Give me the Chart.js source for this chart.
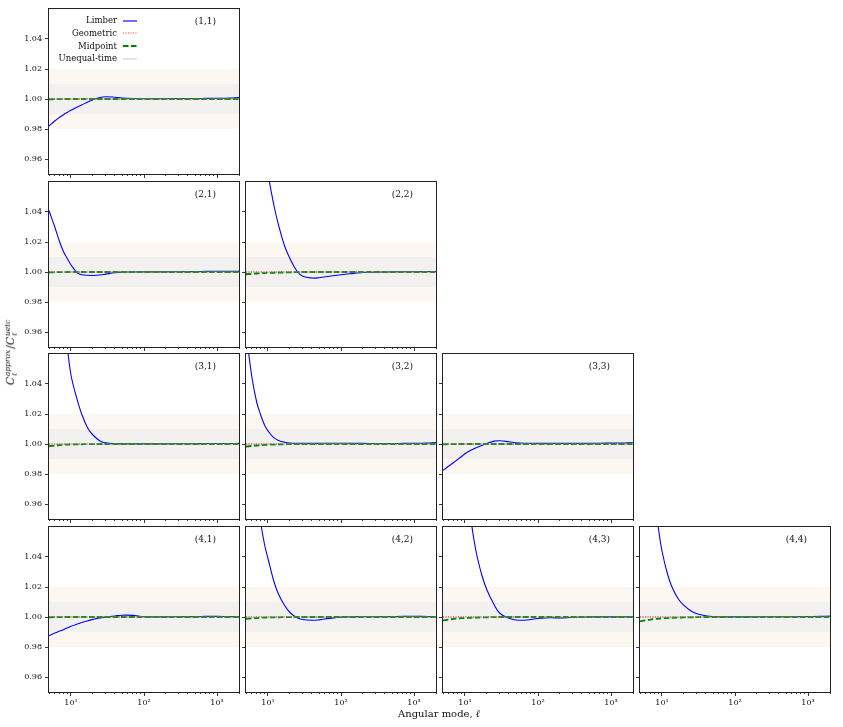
<!DOCTYPE html>
<html>
<head>
<meta charset="utf-8">
<script src="https://cdn.jsdelivr.net/npm/chart.js@4.4.1/dist/chart.umd.min.js"></script>
<style>
  body { margin: 0; background: #fff; font-family: "DejaVu Serif", serif; color: #111; }
  #figure { position: relative; width: 843px; height: 727px; overflow: hidden; }
  #figure canvas { position: absolute; }
  #legend { position: absolute; right: 706px; top: 14.4px; font-size: 8.5px; line-height: 12.7px; }
  #legend .row { display: flex; justify-content: flex-end; align-items: center; white-space: nowrap; height: 12.7px; }
  #legend svg { margin-left: 6px; }
  #ylabel { position: absolute; left: 11px; top: 352px; transform: translate(-50%, -50%) rotate(-90deg);
            white-space: nowrap; font-size: 11px; color: #111; }
  #ylabel .ss { display: inline-flex; flex-direction: column; font-size: 7.5px; line-height: 0.95;
                vertical-align: middle; margin-left: 0.5px; margin-right: 1px; }
  #xlabel { position: absolute; left: 439px; top: 713px; transform: translate(-50%, -50%);
            white-space: nowrap; font-size: 10px; }
</style>
</head>
<body>
<div id="figure">
  <div id="legend"></div>
  <div id="ylabel"><i>C</i><span class="ss"><i>approx</i><i>ℓ</i></span>/<i>C</i><span class="ss"><i>uetc</i><i>ℓ</i></span></div>
  <div id="xlabel">Angular mode, <i>ℓ</i></div>
</div>
<script>
// multipoles the curves are sampled at
const ells = [5, 6, 7, 8, 9, 10, 12, 14, 17, 20, 25, 30, 40, 50, 70, 100, 150, 200, 300, 500, 700, 1000, 1500, 2000];
const xRange = [5, 2000];
const yRange = [0.95, 1.06];

const xTicks = [5, 6, 7, 8, 9, 10, 20, 30, 40, 50, 60, 70, 80, 90, 100, 200, 300, 400, 500, 600, 700, 800, 900, 1000, 2000];
const xMajorTicks = [10, 100, 1000];
const xTickLabels = ["10¹", "10²", "10³"];
const yTicks = [0.96, 0.98, 1.0, 1.02, 1.04];

const bandOuter = [0.98, 1.02];
const bandInner = [0.99, 1.01];

const seriesLabels = ["Limber", "Geometric", "Midpoint", "Unequal-time"];
const panelLabels = ["(1,1)", "(2,1)", "(2,2)", "(3,1)", "(3,2)", "(3,3)", "(4,1)", "(4,2)", "(4,3)", "(4,4)"];

// C_l^approx / C_l^uetc, Limber
const limber11 = [0.9820, 0.9853, 0.9878, 0.9897, 0.9912, 0.9925, 0.9945, 0.9960, 0.9980, 0.9995, 1.0010, 1.0015, 1.0012, 1.0007, 1.0003, 1.0002, 1.0002, 1.0002, 1.0003, 1.0003, 1.0004, 1.0005, 1.0007, 1.0010];
const limber21 = [1.0410, 1.0300, 1.0200, 1.0130, 1.0085, 1.0048, 0.9998, 0.9982, 0.9978, 0.9977, 0.9980, 0.9986, 0.9995, 0.9999, 1.0000, 1.0001, 1.0001, 1.0001, 1.0002, 1.0003, 1.0004, 1.0005, 1.0005, 1.0004];
const limber22 = [1.2500, 1.1800, 1.1400, 1.1100, 1.0850, 1.0660, 1.0450, 1.0310, 1.0170, 1.0090, 1.0005, 0.9972, 0.9960, 0.9962, 0.9972, 0.9982, 0.9991, 0.9997, 0.9999, 1.0001, 1.0002, 1.0002, 1.0003, 1.0003];
const limber31 = [1.2500, 1.1700, 1.1200, 1.0880, 1.0630, 1.0460, 1.0305, 1.0200, 1.0105, 1.0060, 1.0020, 1.0008, 1.0002, 1.0001, 1.0001, 1.0001, 1.0001, 1.0001, 1.0002, 1.0002, 1.0003, 1.0003, 1.0003, 1.0004];
const limber32 = [1.0750, 1.0450, 1.0280, 1.0190, 1.0125, 1.0088, 1.0042, 1.0024, 1.0012, 1.0007, 1.0005, 1.0004, 1.0004, 1.0004, 1.0005, 1.0005, 1.0005, 1.0004, 1.0003, 1.0003, 1.0004, 1.0005, 1.0007, 1.0010];
const limber33 = [0.9824, 0.9853, 0.9877, 0.9898, 0.9917, 0.9935, 0.9958, 0.9973, 0.9990, 1.0004, 1.0019, 1.0022, 1.0015, 1.0008, 1.0005, 1.0004, 1.0004, 1.0004, 1.0004, 1.0004, 1.0005, 1.0006, 1.0007, 1.0008];
const limber41 = [0.9876, 0.9893, 0.9906, 0.9917, 0.9928, 0.9938, 0.9952, 0.9963, 0.9975, 0.9984, 0.9994, 0.9999, 1.0007, 1.0012, 1.0011, 1.0002, 1.0001, 1.0001, 1.0002, 1.0003, 1.0004, 1.0004, 1.0003, 1.0002];
const limber42 = [1.1350, 1.1050, 1.0800, 1.0620, 1.0480, 1.0390, 1.0240, 1.0150, 1.0075, 1.0030, 0.9995, 0.9983, 0.9978, 0.9981, 0.9991, 0.9999, 1.0002, 1.0002, 1.0002, 1.0003, 1.0004, 1.0005, 1.0003, 1.0002];
const limber43 = [1.4000, 1.3000, 1.2200, 1.1700, 1.1300, 1.1000, 1.0660, 1.0450, 1.0280, 1.0180, 1.0083, 1.0025, 0.9991, 0.9980, 0.9980, 0.9990, 0.9995, 0.9993, 0.9998, 1.0000, 1.0001, 1.0001, 1.0001, 1.0001];
const limber44 = [1.1900, 1.1400, 1.1000, 1.0780, 1.0580, 1.0440, 1.0280, 1.0190, 1.0115, 1.0078, 1.0040, 1.0022, 1.0008, 1.0003, 1.0001, 1.0001, 1.0001, 1.0001, 1.0002, 1.0002, 1.0002, 1.0003, 1.0004, 1.0006];

// Midpoint
const midpoint11 = [0.9998, 0.9999, 0.9999, 1.0000, 1.0000, 1.0000, 1.0000, 1.0000, 1.0000, 1.0000, 1.0000, 1.0000, 1.0000, 1.0000, 1.0000, 1.0000, 1.0000, 1.0000, 1.0000, 1.0000, 1.0000, 1.0000, 1.0000, 1.0000];
const midpoint21 = [0.9997, 0.9998, 0.9999, 0.9999, 1.0000, 1.0000, 1.0000, 1.0000, 1.0000, 1.0000, 1.0000, 1.0000, 1.0000, 1.0000, 1.0000, 1.0000, 1.0000, 1.0000, 1.0000, 1.0000, 1.0000, 1.0000, 1.0000, 1.0000];
const midpoint22 = [0.9985, 0.9988, 0.9990, 0.9992, 0.9993, 0.9994, 0.9995, 0.9996, 0.9997, 0.9998, 0.9999, 1.0000, 1.0000, 1.0000, 1.0000, 1.0000, 1.0000, 1.0000, 1.0000, 1.0000, 1.0000, 1.0000, 1.0000, 1.0000];
const midpoint31 = [0.9985, 0.9990, 0.9993, 0.9995, 0.9996, 0.9997, 0.9998, 0.9998, 0.9999, 0.9999, 1.0000, 1.0000, 1.0000, 1.0000, 1.0000, 1.0000, 1.0000, 1.0000, 1.0000, 1.0000, 1.0000, 1.0000, 1.0000, 1.0000];
const midpoint32 = [0.9983, 0.9987, 0.9990, 0.9992, 0.9994, 0.9995, 0.9996, 0.9997, 0.9998, 0.9999, 1.0000, 1.0000, 1.0000, 1.0000, 1.0000, 1.0000, 1.0000, 1.0000, 1.0000, 1.0000, 1.0000, 1.0000, 1.0000, 1.0000];
const midpoint33 = [0.9998, 0.9999, 0.9999, 1.0000, 1.0000, 1.0000, 1.0000, 1.0000, 1.0000, 1.0000, 1.0000, 1.0000, 1.0000, 1.0000, 1.0000, 1.0000, 1.0000, 1.0000, 1.0000, 1.0000, 1.0000, 1.0000, 1.0000, 1.0000];
const midpoint41 = [0.9998, 0.9999, 0.9999, 1.0000, 1.0000, 1.0000, 1.0000, 1.0000, 1.0000, 1.0000, 1.0000, 1.0000, 1.0000, 1.0000, 1.0000, 1.0000, 1.0000, 1.0000, 1.0000, 1.0000, 1.0000, 1.0000, 1.0000, 1.0000];
const midpoint42 = [0.9988, 0.9991, 0.9993, 0.9995, 0.9996, 0.9997, 0.9998, 0.9998, 0.9999, 0.9999, 1.0000, 1.0000, 1.0000, 1.0000, 1.0000, 1.0000, 1.0000, 1.0000, 1.0000, 1.0000, 1.0000, 1.0000, 1.0000, 1.0000];
const midpoint43 = [0.9977, 0.9983, 0.9987, 0.9990, 0.9992, 0.9993, 0.9995, 0.9996, 0.9997, 0.9998, 0.9999, 1.0000, 1.0000, 1.0000, 1.0000, 1.0000, 1.0000, 1.0000, 1.0000, 1.0000, 1.0000, 1.0000, 1.0000, 1.0000];
const midpoint44 = [0.9971, 0.9978, 0.9983, 0.9987, 0.9989, 0.9991, 0.9993, 0.9995, 0.9996, 0.9997, 0.9998, 0.9999, 1.0000, 1.0000, 1.0000, 1.0000, 1.0000, 1.0000, 1.0000, 1.0000, 1.0000, 1.0000, 1.0000, 1.0000];

// Geometric and the unequal-time reference sit on 1 across the range
const geometric = [1.0, 1.0];
const unequalTime = [1.0, 1.0];

const limberByPanel = [limber11, limber21, limber22, limber31, limber32, limber33, limber41, limber42, limber43, limber44];
const midpointByPanel = [midpoint11, midpoint21, midpoint22, midpoint31, midpoint32, midpoint33, midpoint41, midpoint42, midpoint43, midpoint44];

// figure geometry
const colLeft = [49, 246, 443, 640];
const rowTop = [9, 182, 354, 527];
const PANEL_W = 190;
const PANEL_H = 165;
const AXIS_L = 45;
const AXIS_B = 22;
const PAD_T = 12;
const PAD_R = 12;

const seriesStyles = [
  { borderColor: "#0000ff", borderWidth: 1.1, borderDash: [], legendWidth: 2, legendColor: "#6f6fff" },
  { borderColor: "#ff0000", borderWidth: 1, borderDash: [1, 1.5], legendWidth: 1, legendColor: "#ff3030" },
  { borderColor: "#008000", borderWidth: 1.8, borderDash: [5.5, 2.5], legendWidth: 2, legendColor: "#008000" },
  { borderColor: "rgba(170,170,170,0.5)", borderWidth: 1, borderDash: [], legendWidth: 1, legendColor: "#c8c8c8" },
];

Chart.defaults.font.family = "'DejaVu Serif', serif";
Chart.defaults.color = "#111";

const toPoints = (xs, ys) => xs.map((x, i) => ({ x, y: ys[i] }));

const framePlugin = {
  id: "frame",
  afterDatasetsDraw(chart) {
    const { ctx, chartArea: a } = chart;
    ctx.save();
    ctx.strokeStyle = "#222";
    ctx.lineWidth = 1;
    ctx.strokeRect(a.left - 0.5, a.top - 0.5, a.width + 1, a.height + 1);
    ctx.restore();
  },
};

const panelLabelPlugin = {
  id: "panelLabel",
  afterDraw(chart, args, opts) {
    const { ctx, chartArea: a } = chart;
    ctx.save();
    ctx.font = "9px 'DejaVu Serif', serif";
    ctx.fillStyle = "#111";
    ctx.textAlign = "right";
    ctx.textBaseline = "middle";
    ctx.fillText(opts.text, a.right - 23, a.top + 13);
    ctx.restore();
  },
};

const makeDatasets = (limber, midpoint) => [
  { label: seriesLabels[0], data: toPoints(ells, limber), tension: 0.4, order: 3, ...seriesStyles[0] },
  { label: seriesLabels[1], data: toPoints(xRange, geometric), order: 2, ...seriesStyles[1] },
  { label: seriesLabels[2], data: toPoints(ells, midpoint), tension: 0.4, order: 1, ...seriesStyles[2] },
  { label: seriesLabels[3], data: toPoints(xRange, unequalTime), order: 0, ...seriesStyles[3] },
  {
    label: "band-inner",
    data: toPoints(xRange, [bandInner[1], bandInner[1]]),
    fill: { value: bandInner[0] },
    backgroundColor: "#f3f1ef",
    borderWidth: 0,
    order: 4,
  },
  {
    label: "band-outer",
    data: toPoints(xRange, [bandOuter[1], bandOuter[1]]),
    fill: { value: bandOuter[0] },
    backgroundColor: "#fdf7f1",
    borderWidth: 0,
    order: 5,
  },
];

const makeChart = (canvas, idx, row, col) => {
  const isBottom = row === 3;
  const isLeft = col === 0;

  return new Chart(canvas, {
    type: "line",
    data: { datasets: makeDatasets(limberByPanel[idx], midpointByPanel[idx]) },
    plugins: [framePlugin, panelLabelPlugin],
    options: {
      responsive: false,
      animation: false,
      events: [],
      layout: { padding: { top: PAD_T, right: PAD_R, left: 0, bottom: 0 } },
      elements: { point: { radius: 0 }, line: { tension: 0 } },
      plugins: {
        legend: { display: false },
        tooltip: { enabled: false },
        panelLabel: { text: panelLabels[idx] },
      },
      scales: {
        x: {
          type: "logarithmic",
          min: xRange[0],
          max: xRange[1],
          bounds: "data",
          afterBuildTicks: (scale) => {
            scale.ticks = xTicks.map((v) => ({ value: v }));
          },
          afterFit: (scale) => {
            scale.height = AXIS_B;
          },
          border: { display: false },
          grid: {
            drawOnChartArea: false,
            drawTicks: true,
            tickLength: 4,
            tickColor: "#222",
            tickWidth: 0.9,
            tickBorderDash: (ctx) =>
              ctx.tick && xMajorTicks.includes(ctx.tick.value) ? [] : [2, 30],
          },
          ticks: {
            autoSkip: false,
            maxRotation: 0,
            minRotation: 0,
            padding: 2,
            color: "#111",
            font: { size: 8 },
            callback: (v) => {
              const i = xMajorTicks.indexOf(v);
              return isBottom && i >= 0 ? xTickLabels[i] : "";
            },
          },
        },
        y: {
          type: "linear",
          min: yRange[0],
          max: yRange[1],
          afterBuildTicks: (scale) => {
            scale.ticks = yTicks.map((v) => ({ value: v }));
          },
          afterFit: (scale) => {
            scale.width = AXIS_L;
          },
          border: { display: false },
          grid: {
            drawOnChartArea: false,
            drawTicks: true,
            tickLength: 4,
            tickColor: "#222",
            tickWidth: 0.9,
          },
          ticks: {
            autoSkip: false,
            padding: 3,
            color: "#111",
            font: { size: 8 },
            callback: (v) => (isLeft ? Number(v).toFixed(2) : ""),
          },
        },
      },
    },
  });
};

const lineSample = (st, ds) => {
  const dash = ds.borderDash.length ? `stroke-dasharray="${ds.borderDash.join(" ")}"` : "";
  return `<svg width="14" height="4"><line x1="0" y1="2" x2="14" y2="2" stroke="${st.legendColor}" stroke-width="${st.legendWidth}" ${dash}/></svg>`;
};

const buildLegend = (chart) => {
  const el = document.getElementById("legend");
  el.innerHTML = chart.data.datasets
    .filter((ds) => seriesLabels.includes(ds.label))
    .map((ds, i) => `<div class="row"><span>${ds.label}</span>${lineSample(seriesStyles[i], ds)}</div>`)
    .join("");
};

const figure = document.getElementById("figure");
const charts = [];

panelLabels.forEach((label, idx) => {
  const [r, c] = label.replace(/[()]/g, "").split(",").map((n) => Number(n) - 1);
  const canvas = document.createElement("canvas");
  canvas.width = AXIS_L + PANEL_W + PAD_R;
  canvas.height = PAD_T + PANEL_H + AXIS_B;
  canvas.style.left = `${colLeft[c] - AXIS_L}px`;
  canvas.style.top = `${rowTop[r] - PAD_T}px`;
  figure.insertBefore(canvas, figure.firstChild);
  charts.push(makeChart(canvas, idx, r, c));
});

buildLegend(charts[0]);
</script>
</body>
</html>
